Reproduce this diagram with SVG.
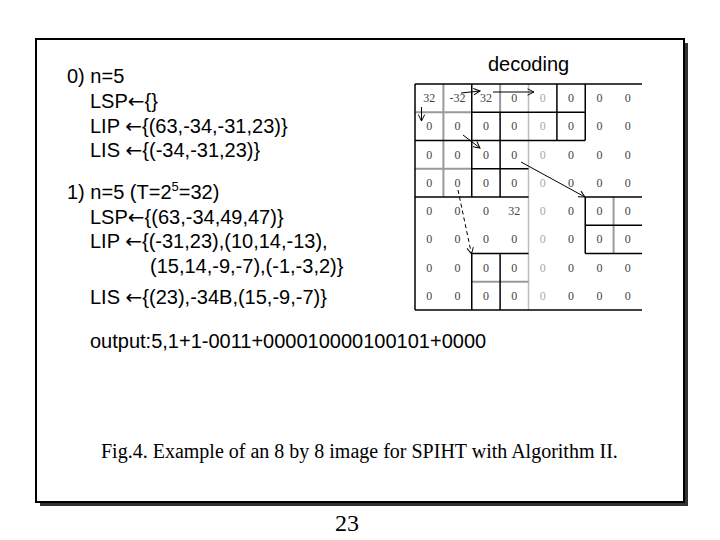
<svg xmlns="http://www.w3.org/2000/svg" width="720" height="540" viewBox="0 0 720 540">
<style>
.t{font-family:"Liberation Sans",Arial,sans-serif;font-size:20px;fill:#000}
.ar{font-family:"DejaVu Sans",sans-serif;font-size:20px}
.cap{font-family:"Liberation Serif","Times New Roman",serif;fill:#000}
.n{font-family:"Liberation Serif","Times New Roman",serif;font-size:12px;fill:#444;text-anchor:middle}
.nl{fill:#aaa}
.g{stroke:#9a9a9a;stroke-width:2;fill:none}
.gl{stroke:#bdbdbd;stroke-width:1.5;fill:none}
.b{stroke:#000;stroke-width:1.5;fill:none}
.a{stroke:#000;stroke-width:1;fill:none;marker-end:url(#ah)}
.ad{stroke:#000;stroke-width:1;fill:none;stroke-dasharray:4 3;marker-end:url(#ah)}
</style>
<defs>
<marker id="ah" viewBox="0 0 10 10" refX="9" refY="5" markerWidth="8" markerHeight="8" markerUnits="userSpaceOnUse" orient="auto">
<path d="M1,1 L9,5 L1,9" fill="none" stroke="#000" stroke-width="1.2"/>
</marker>
</defs>
<rect width="720" height="540" fill="#fff"/>
<g id="frame">
<rect x="40" y="43" width="648" height="463" fill="#333"/>
<rect x="36" y="39" width="648" height="463" fill="#fff" stroke="#000" stroke-width="2"/>
</g>
<g id="text-left">
<text class="t" x="67" y="83">0) n=5</text>
<text class="t" x="90" y="108">LSP<tspan class="ar">←</tspan>{}</text>
<text class="t" x="90" y="133">LIP <tspan class="ar">←</tspan>{(63,-34,-31,23)}</text>
<text class="t" x="90" y="157">LIS <tspan class="ar">←</tspan>{(-34,-31,23)}</text>
<text class="t" x="67" y="199">1) n=5 (T=2<tspan font-size="13" dy="-8">5</tspan><tspan dy="8">=32)</tspan></text>
<text class="t" x="90" y="224">LSP<tspan class="ar">←</tspan>{(63,-34,49,47)}</text>
<text class="t" x="90" y="248">LIP <tspan class="ar">←</tspan>{(-31,23),(10,14,-13),</text>
<text class="t" x="150" y="273">(15,14,-9,-7),(-1,-3,2)}</text>
<text class="t" x="90" y="304">LIS <tspan class="ar">←</tspan>{(23),-34B,(15,-9,-7)}</text>
<text class="t" x="90" y="348">output:5,1+1-0011+000010000100101+0000</text>
<text class="t" x="488" y="71">decoding</text>
</g>
<g id="grid">
<g id="grid-gray">
<line class="gl" x1="528.5" y1="84" x2="528.5" y2="310"/>
<line class="g" x1="443.4" y1="84" x2="443.4" y2="197"/>
<line class="g" x1="415" y1="112.25" x2="471.75" y2="112.25"/>
<line class="g" x1="415" y1="168.75" x2="471.75" y2="168.75"/>
<line class="g" x1="500.1" y1="84" x2="500.1" y2="112.25"/>
<line class="g" x1="613.6" y1="197" x2="613.6" y2="253.5"/>
<line class="g" x1="471.75" y1="281.75" x2="528.5" y2="281.75"/>
</g>
<g id="grid-black">
<line class="b" x1="415" y1="84" x2="642" y2="84"/>
<line class="b" x1="415" y1="84" x2="415" y2="310"/>
<line class="b" x1="415" y1="310" x2="642" y2="310"/>
<line class="b" x1="471.75" y1="84" x2="471.75" y2="197"/>
<line class="b" x1="500.1" y1="112.25" x2="500.1" y2="197"/>
<line class="b" x1="471.75" y1="112.25" x2="585.25" y2="112.25"/>
<line class="b" x1="415" y1="140.5" x2="585.25" y2="140.5"/>
<line class="b" x1="556.9" y1="84" x2="556.9" y2="140.5"/>
<line class="b" x1="585.25" y1="84" x2="585.25" y2="140.5"/>
<line class="b" x1="471.75" y1="168.75" x2="528.5" y2="168.75"/>
<line class="b" x1="415" y1="197" x2="528.5" y2="197"/>
<line class="b" x1="585.25" y1="197" x2="642" y2="197"/>
<line class="b" x1="585.25" y1="197" x2="585.25" y2="253.5"/>
<line class="b" x1="585.25" y1="225.25" x2="642" y2="225.25"/>
<line class="b" x1="585.25" y1="253.5" x2="642" y2="253.5"/>
<line class="b" x1="471.75" y1="253.5" x2="528.5" y2="253.5"/>
<line class="b" x1="471.75" y1="253.5" x2="471.75" y2="310"/>
<line class="b" x1="500.1" y1="253.5" x2="500.1" y2="310"/>
</g>
<g id="grid-values">
<text class="n" x="429.2" y="102">32</text><text class="n" x="457.6" y="102">-32</text><text class="n" x="485.9" y="102">32</text><text class="n" x="514.3" y="102">0</text><text class="n nl" x="542.7" y="102">0</text><text class="n" x="571.1" y="102">0</text><text class="n" x="599.4" y="102">0</text><text class="n" x="627.8" y="102">0</text>
<text class="n" x="429.2" y="130.3">0</text><text class="n" x="457.6" y="130.3">0</text><text class="n" x="485.9" y="130.3">0</text><text class="n" x="514.3" y="130.3">0</text><text class="n nl" x="542.7" y="130.3">0</text><text class="n" x="571.1" y="130.3">0</text><text class="n" x="599.4" y="130.3">0</text><text class="n" x="627.8" y="130.3">0</text>
<text class="n" x="429.2" y="158.5">0</text><text class="n" x="457.6" y="158.5">0</text><text class="n" x="485.9" y="158.5">0</text><text class="n" x="514.3" y="158.5">0</text><text class="n nl" x="542.7" y="158.5">0</text><text class="n" x="571.1" y="158.5">0</text><text class="n" x="599.4" y="158.5">0</text><text class="n" x="627.8" y="158.5">0</text>
<text class="n" x="429.2" y="186.8">0</text><text class="n" x="457.6" y="186.8">0</text><text class="n" x="485.9" y="186.8">0</text><text class="n" x="514.3" y="186.8">0</text><text class="n nl" x="542.7" y="186.8">0</text><text class="n" x="571.1" y="186.8">0</text><text class="n" x="599.4" y="186.8">0</text><text class="n" x="627.8" y="186.8">0</text>
<text class="n" x="429.2" y="215">0</text><text class="n" x="457.6" y="215">0</text><text class="n" x="485.9" y="215">0</text><text class="n" x="514.3" y="215">32</text><text class="n nl" x="542.7" y="215">0</text><text class="n" x="571.1" y="215">0</text><text class="n" x="599.4" y="215">0</text><text class="n" x="627.8" y="215">0</text>
<text class="n" x="429.2" y="243.3">0</text><text class="n" x="457.6" y="243.3">0</text><text class="n" x="485.9" y="243.3">0</text><text class="n" x="514.3" y="243.3">0</text><text class="n nl" x="542.7" y="243.3">0</text><text class="n" x="571.1" y="243.3">0</text><text class="n" x="599.4" y="243.3">0</text><text class="n" x="627.8" y="243.3">0</text>
<text class="n" x="429.2" y="271.5">0</text><text class="n" x="457.6" y="271.5">0</text><text class="n" x="485.9" y="271.5">0</text><text class="n" x="514.3" y="271.5">0</text><text class="n nl" x="542.7" y="271.5">0</text><text class="n" x="571.1" y="271.5">0</text><text class="n" x="599.4" y="271.5">0</text><text class="n" x="627.8" y="271.5">0</text>
<text class="n" x="429.2" y="299.8">0</text><text class="n" x="457.6" y="299.8">0</text><text class="n" x="485.9" y="299.8">0</text><text class="n" x="514.3" y="299.8">0</text><text class="n nl" x="542.7" y="299.8">0</text><text class="n" x="571.1" y="299.8">0</text><text class="n" x="599.4" y="299.8">0</text><text class="n" x="627.8" y="299.8">0</text>
</g>
</g>
<g id="connectors">
<line class="a" x1="461" y1="93" x2="480" y2="91"/>
<line class="a" x1="493" y1="92" x2="534" y2="92"/>
<line class="a" x1="421.5" y1="107" x2="421.5" y2="121"/>
<line class="a" x1="463" y1="135" x2="480" y2="148"/>
<line class="a" x1="521" y1="162" x2="585" y2="197"/>
<line class="ad" x1="458" y1="190" x2="471.5" y2="254"/>
</g>
<g id="caption">
<text class="cap" x="101" y="458" font-size="20">Fig.4. Example of an 8 by 8 image for SPIHT with Algorithm II.</text>
<text class="cap" x="347" y="531" font-size="24" text-anchor="middle">23</text>
</g>
</svg>
